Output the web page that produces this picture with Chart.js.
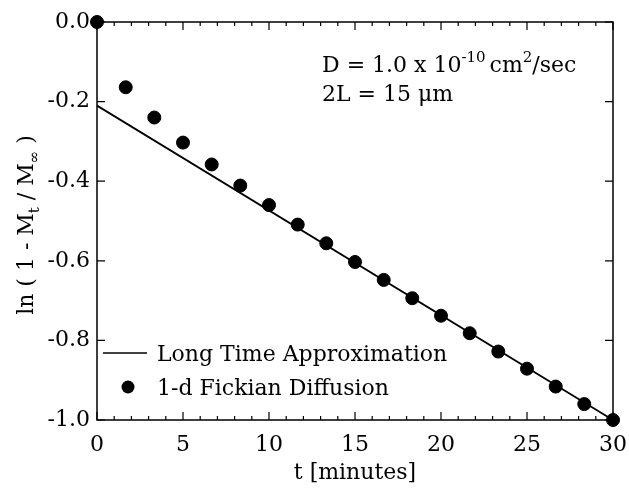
<!DOCTYPE html>
<html>
<head>
<meta charset="utf-8">
<script src="https://cdn.jsdelivr.net/npm/chart.js@4/dist/chart.umd.min.js"></script>
<style>
  html, body { margin: 0; padding: 0; background: #fff; }
  #wrap { width: 629px; height: 490px; }
</style>
</head>
<body>
<div id="wrap"><canvas id="chart1" width="629" height="490"></canvas></div>
<script>
// 1-d Fickian diffusion points, t in minutes
var diffT = [0, 1.67, 3.33, 5, 6.67, 8.33, 10, 11.67, 13.33, 15, 16.67, 18.33, 20, 21.67, 23.33, 25, 26.67, 28.33, 30];
var diffY = [0, -0.164, -0.240, -0.303, -0.358, -0.411, -0.460, -0.509, -0.556, -0.603, -0.648, -0.694, -0.738, -0.782, -0.828, -0.871, -0.916, -0.960, -1.0];

// long time approximation (straight line)
var approxT = [0, 30];
var approxY = [-0.21, -1.0];

var xTicks = [0, 5, 10, 15, 20, 25, 30];
var yTicks = [0, -0.2, -0.4, -0.6, -0.8, -1.0];

var FONT = '"DejaVu Serif", serif';

function toPoints(xs, ys) {
    return xs.map(function (x, i) { return { x: x, y: ys[i] }; });
}

// frame, inward ticks, legend and texts
var extras = {
    id: 'extras',
    beforeDatasetsDraw: function (chart) {
        var c = chart.ctx;
        var a = chart.chartArea;
        var xs = chart.scales.x, ys = chart.scales.y;
        c.save();
        c.strokeStyle = '#000';
        c.lineWidth = 1.5;
        c.strokeRect(a.left, a.top, a.right - a.left, a.bottom - a.top);

        c.lineWidth = 1.2;
        c.beginPath();
        for (var t = 0; t <= 30; t++) {
            var px = xs.getPixelForValue(t);
            var len = (t % 5 === 0) ? 8 : 4;
            c.moveTo(px, a.bottom); c.lineTo(px, a.bottom - len);
            c.moveTo(px, a.top); c.lineTo(px, a.top + len);
        }
        yTicks.forEach(function (v) {
            var py = ys.getPixelForValue(v);
            c.moveTo(a.left, py); c.lineTo(a.left + 8, py);
            c.moveTo(a.right, py); c.lineTo(a.right - 8, py);
        });
        c.stroke();
        c.restore();
    },
    afterDraw: function (chart) {
        var c = chart.ctx;
        var a = chart.chartArea;
        c.save();
        c.fillStyle = '#000';
        c.strokeStyle = '#000';
        c.textBaseline = 'alphabetic';
        c.textAlign = 'left';

        // legend
        var ds = chart.data.datasets;
        c.font = '22px ' + FONT;
        c.beginPath();
        c.lineWidth = 1.5;
        c.moveTo(103, 353); c.lineTo(147, 353);
        c.stroke();
        c.fillText(ds[0].label, 157, 361);
        c.beginPath();
        c.arc(128, 387, 6.5, 0, Math.PI * 2);
        c.fill();
        c.fillText(ds[1].label, 157, 395);

        // annotation
        var x = 322;
        c.font = '22px ' + FONT;
        c.fillText('D = 1.0 x 10', x, 72);
        x += c.measureText('D = 1.0 x 10').width;
        c.font = '15px ' + FONT;
        c.fillText('-10', x, 62);
        x += c.measureText('-10').width + 4;
        c.font = '22px ' + FONT;
        c.fillText('cm', x, 72);
        x += c.measureText('cm').width;
        c.font = '15px ' + FONT;
        c.fillText('2', x, 62);
        x += c.measureText('2').width;
        c.font = '22px ' + FONT;
        c.fillText('/sec', x, 72);
        c.fillText('2L = 15 \u03bcm', 322, 101);

        // x title
        c.textAlign = 'center';
        c.fillText('t [minutes]', (a.left + a.right) / 2, 479);

        // y title with subscripts
        var parts = [
            ['ln ( 1 - M', 22, 0],
            ['t', 15, 6],
            [' / M', 22, 0],
            ['\u221e', 15, 6],
            [' )', 22, 0]
        ];
        var total = 0;
        parts.forEach(function (p) { c.font = p[1] + 'px ' + FONT; total += c.measureText(p[0]).width; });
        c.translate(33, (a.top + a.bottom) / 2 + 4);
        c.rotate(-Math.PI / 2);
        c.textAlign = 'left';
        var cx = -total / 2;
        parts.forEach(function (p) {
            c.font = p[1] + 'px ' + FONT;
            c.fillText(p[0], cx, p[2]);
            cx += c.measureText(p[0]).width;
        });
        c.restore();
    }
};

var ctx = document.getElementById('chart1').getContext('2d');
var myChart = new Chart(ctx, {
    type: 'scatter',
    data: {
        datasets: [{
            type: 'line',
            label: 'Long Time Approximation',
            data: toPoints(approxT, approxY),
            borderColor: '#000',
            borderWidth: 1.8,
            pointRadius: 0,
            fill: false
        }, {
            label: '1-d Fickian Diffusion',
            data: toPoints(diffT, diffY),
            backgroundColor: '#000',
            borderColor: '#000',
            pointRadius: 6.5,
            pointHoverRadius: 6.5,
            clip: false
        }]
    },
    options: {
        responsive: false,
        animation: false,
        events: [],
        layout: { padding: { top: 22, right: 16, left: 0, bottom: 0 } },
        plugins: { legend: { display: false }, tooltip: { enabled: false } },
        scales: {
            x: {
                type: 'linear',
                min: 0, max: 30,
                afterBuildTicks: function (s) { s.ticks = xTicks.map(function (v) { return { value: v }; }); },
                afterFit: function (s) { s.height = 70; s.paddingLeft = 0; s.paddingRight = 0; },
                grid: { display: false, drawTicks: false },
                border: { display: false },
                ticks: { color: '#000', padding: 12, maxRotation: 0, font: { family: FONT, size: 22 } }
            },
            y: {
                min: -1, max: 0,
                afterBuildTicks: function (s) { s.ticks = yTicks.map(function (v) { return { value: v }; }); },
                afterFit: function (s) { s.width = 97; s.paddingTop = 0; s.paddingBottom = 0; },
                grid: { display: false, drawTicks: false },
                border: { display: false },
                ticks: {
                    color: '#000', padding: 7, font: { family: FONT, size: 22 },
                    callback: function (v) { return v.toFixed(1); }
                }
            }
        }
    },
    plugins: [extras]
});
</script>
</body>
</html>
